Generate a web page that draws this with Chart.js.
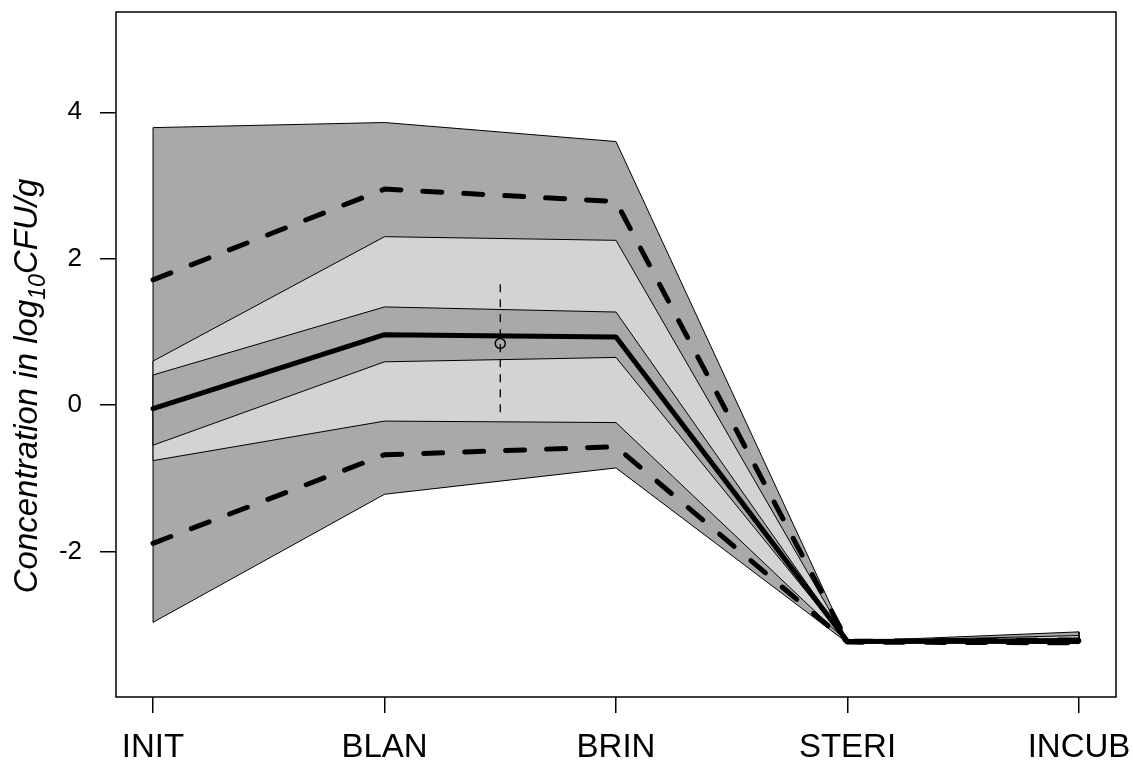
<!DOCTYPE html>
<html>
<head>
<meta charset="utf-8">
<script src="https://cdn.jsdelivr.net/npm/chart.js@4.4.1/dist/chart.umd.min.js"></script>
<style>
  body { margin: 0; background: #fff; }
  canvas { display: block; }
</style>
</head>
<body>
<canvas id="chart" width="1133" height="760"></canvas>
<script>
// categories on the x axis
const categories = ["INIT", "BLAN", "BRIN", "STERI", "INCUB"];
const yTicks = [-2, 0, 2, 4];

// outer band (dark grey)
const outerUpper = [3.79, 3.86, 3.60, -3.23, -3.10];
const outerLower = [-2.97, -1.22, -0.86, -3.25, -3.26];
// middle band (light grey)
const lightUpper = [0.60, 2.30, 2.25, -3.23, -3.15];
const lightLower = [-0.76, -0.22, -0.24, -3.24, -3.25];
// inner band (dark grey)
const innerUpper = [0.41, 1.34, 1.27, -3.23, -3.19];
const innerLower = [-0.55, 0.59, 0.65, -3.24, -3.24];

// median and dashed limits
const median = [-0.05, 0.96, 0.93, -3.23, -3.22];
const dashUpper = [1.71, 2.95, 2.78, -3.23, -3.21];
const dashLower = [-1.89, -0.68, -0.57, -3.24, -3.25];

// observed value with its range
const obsX = [1.5];
const obsY = [0.84];
const obsLow = [-0.10];
const obsHigh = [1.73];

const xMin = -0.16, xMax = 4.16;
const yMin = -3.99, yMax = 5.37;

const DARK = "#A9A9A9";
const LIGHT = "#D3D3D3";
const FONT = "'Liberation Sans', Arial, sans-serif";

// upper edge then lower edge back, closed
function polygon(upper, lower) {
  const pts = upper.map((v, i) => ({ x: i, y: v }));
  for (let i = lower.length - 1; i >= 0; i--) pts.push({ x: i, y: lower[i] });
  pts.push({ x: 0, y: upper[0] });
  return pts;
}
const toPoints = (arr) => arr.map((v, i) => ({ x: i, y: v }));

function band(data, color, order) {
  return {
    data: data,
    showLine: true,
    fill: "shape",
    backgroundColor: color,
    borderColor: "#000",
    borderWidth: 1,
    pointRadius: 0,
    tension: 0,
    order: order,
  };
}
function thick(data, dash, order) {
  return {
    data: data,
    showLine: true,
    fill: false,
    borderColor: "#000",
    borderWidth: 5,
    borderDash: dash,
    borderCapStyle: "round",
    borderJoinStyle: "round",
    pointRadius: 0,
    tension: 0,
    order: order,
  };
}

// no extra room for tick labels, the plot box is fixed
function noPadding(axis) {
  axis.paddingTop = 0;
  axis.paddingBottom = 0;
  axis.paddingLeft = 0;
  axis.paddingRight = 0;
}

// box and y title
const frame = {
  id: "frame",
  afterDraw(chart) {
    const { ctx, chartArea: a } = chart;
    ctx.save();
    ctx.strokeStyle = "#000";
    ctx.lineWidth = 1.5;
    ctx.strokeRect(a.left, a.top, a.right - a.left, a.bottom - a.top);

    // rotated title with subscript
    const size = 33;
    const parts = [
      { t: "Concentration in log", s: size, dy: 0 },
      { t: "10", s: size * 0.7, dy: 8 },
      { t: "CFU/g", s: size, dy: 0 },
    ];
    let total = 0;
    parts.forEach((p) => {
      ctx.font = "italic " + p.s + "px " + FONT;
      p.w = ctx.measureText(p.t).width;
      total += p.w;
    });
    ctx.translate(37, 386);
    ctx.rotate(-Math.PI / 2);
    ctx.fillStyle = "#000";
    ctx.textBaseline = "alphabetic";
    let x = -total / 2;
    parts.forEach((p) => {
      ctx.font = "italic " + p.s + "px " + FONT;
      ctx.fillText(p.t, x, p.dy);
      x += p.w;
    });
    ctx.restore();
  },
};

new Chart(document.getElementById("chart"), {
  type: "scatter",
  data: {
    datasets: [
      band(polygon(outerUpper, outerLower), DARK, 10),
      band(polygon(lightUpper, lightLower), LIGHT, 9),
      band(polygon(innerUpper, innerLower), DARK, 8),
      thick(toPoints(median), [], 4),
      thick(toPoints(dashUpper), [19, 22], 3),
      thick(toPoints(dashLower), [19, 22], 3),
      {
        data: [{ x: obsX[0], y: obsLow[0] }, { x: obsX[0], y: obsHigh[0] }],
        showLine: true,
        borderColor: "#000",
        borderWidth: 1.3,
        borderDash: [8, 7],
        pointRadius: 0,
        order: 2,
      },
      {
        data: obsX.map((x, i) => ({ x: x, y: obsY[i] })),
        pointRadius: 5,
        pointStyle: "circle",
        pointBorderColor: "#000",
        pointBackgroundColor: "rgba(0,0,0,0)",
        pointBorderWidth: 1.5,
        order: 1,
      },
    ],
  },
  options: {
    responsive: false,
    animation: false,
    layout: { padding: { top: 12, right: 17, left: 0, bottom: 0 } },
    plugins: {
      legend: { display: false },
      tooltip: { enabled: false },
    },
    scales: {
      x: {
        type: "linear",
        min: xMin,
        max: xMax,
        afterBuildTicks: (axis) => {
          axis.ticks = categories.map((c, i) => ({ value: i }));
        },
        afterFit: (axis) => {
          axis.height = 63;
          noPadding(axis);
        },
        ticks: {
          callback: (v) => categories[v],
          color: "#000",
          font: { family: FONT, size: 33 },
          padding: 15,
          maxRotation: 0,
          autoSkip: false,
        },
        grid: {
          display: true,
          drawOnChartArea: false,
          drawTicks: true,
          tickLength: 16,
          color: "#000",
          lineWidth: 1.5,
        },
        border: { display: false },
      },
      y: {
        min: yMin,
        max: yMax,
        afterBuildTicks: (axis) => {
          axis.ticks = yTicks.map((v) => ({ value: v }));
        },
        afterFit: (axis) => {
          axis.width = 116;
          noPadding(axis);
        },
        ticks: {
          color: "#000",
          font: { family: FONT, size: 26 },
          padding: 18,
        },
        grid: {
          display: true,
          drawOnChartArea: false,
          drawTicks: true,
          tickLength: 16,
          color: "#000",
          lineWidth: 1.5,
        },
        border: { display: false },
      },
    },
  },
  plugins: [frame],
});
</script>
</body>
</html>
